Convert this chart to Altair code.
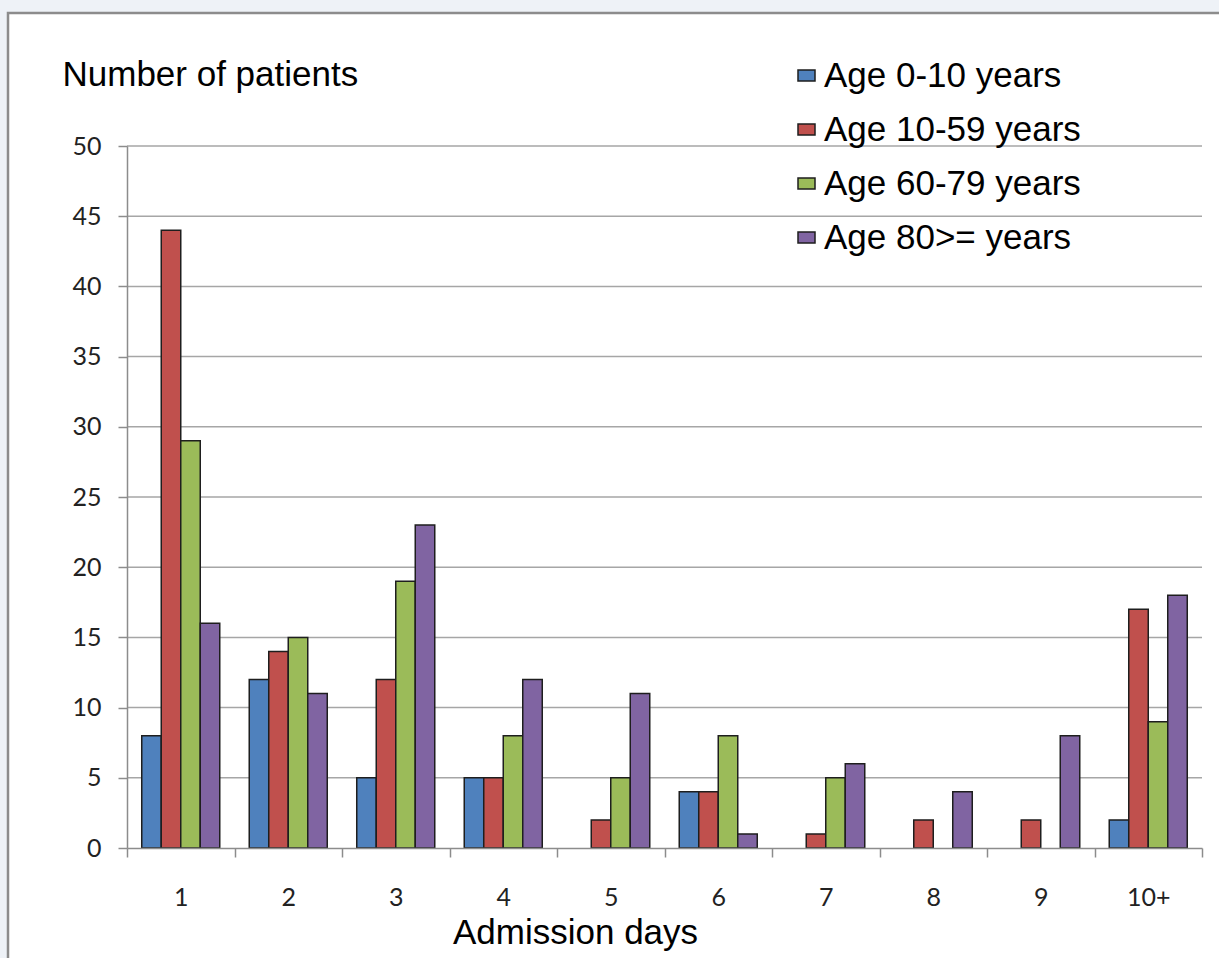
import altair as alt
import pandas as pd

# Admission length categories and patient counts per age group
days = ["1", "2", "3", "4", "5", "6", "7", "8", "9", "10+"]
groups = ["Age 0-10 years", "Age 10-59 years", "Age 60-79 years", "Age 80>= years"]
age_0_10 = [8, 12, 5, 5, 0, 4, 0, 0, 0, 2]
age_10_59 = [44, 14, 12, 5, 2, 4, 1, 2, 2, 17]
age_60_79 = [29, 15, 19, 8, 5, 8, 5, 0, 0, 9]
age_80_plus = [16, 11, 23, 12, 11, 1, 6, 4, 8, 18]
colors = ["#4f81bd", "#c0504d", "#9bbb59", "#8064a2"]
y_ticks = [0, 5, 10, 15, 20, 25, 30, 35, 40, 45, 50]

rows = []
for g, series in zip(groups, [age_0_10, age_10_59, age_60_79, age_80_plus]):
    for d, v in zip(days, series):
        rows.append({"day": d, "group": g, "value": v})
df = pd.DataFrame(rows)

W, H = 1075, 702
PAD_L, PAD_T = 127, 146
ARIAL = "Liberation Sans"
TICKFONT = "Lato"

# white panel with a grey border on the light page background
frame = alt.Chart(pd.DataFrame({"k": [0]})).mark_rect(
    fill="white", stroke="#8c8c8c", strokeWidth=2.5
).encode(
    x=alt.value(8 - PAD_L),
    x2=alt.value(W + 200),
    y=alt.value(13 - PAD_T),
    y2=alt.value(H + 200),
)

yscale = alt.Scale(domain=[0, 50], nice=False)

y_axis = alt.Axis(
    values=y_ticks,
    title="Number of patients",
    titleFont=ARIAL,
    titleFontSize=35,
    titleFontWeight="normal",
    titleColor="#000",
    titleAngle=0,
    titleAlign="left",
    titleBaseline="alphabetic",
    titleX=62 - PAD_L,
    titleY=85 - PAD_T,
    labelFont=TICKFONT,
    labelFontSize=25,
    labelColor="#222",
    labelPadding=17,
    tickSize=9,
    tickColor="#8c8c8c",
    tickWidth=1.5,
    domainColor="#8c8c8c",
    domainWidth=1.5,
    grid=False,
    zindex=1,
)

grid = alt.Chart(pd.DataFrame({"v": y_ticks[1:]})).mark_rule(
    color="#a6a6a6", strokeWidth=1.5
).encode(y=alt.Y("v:Q", scale=yscale, axis=y_axis))

bars = alt.Chart(df).transform_filter("datum.value > 0").mark_bar(
    stroke="#1e1e1e", strokeWidth=1.5
).encode(
    x=alt.X(
        "day:N",
        sort=days,
        scale=alt.Scale(domain=days, paddingInner=0, paddingOuter=0),
        axis=alt.Axis(
            title="Admission days",
            titleFont=ARIAL,
            titleFontSize=35,
            titleFontWeight="normal",
            titleColor="#000",
            titleX=575 - PAD_L,
            titleY=943 - 848,
            titleAlign="center",
            titleBaseline="alphabetic",
            labelFont=TICKFONT,
            labelFontSize=25,
            labelColor="#222",
            labelPadding=28,
            labelAngle=0,
            tickBand="extent",
            tickSize=9,
            tickColor="#8c8c8c",
            tickWidth=1.5,
            domainColor="#8c8c8c",
            domainWidth=1.5,
            grid=False,
            zindex=1,
        ),
    ),
    xOffset=alt.XOffset(
        "group:N",
        sort=groups,
        scale=alt.Scale(domain=groups, paddingInner=0, paddingOuter=0.756),
    ),
    y=alt.Y("value:Q", scale=yscale, axis=y_axis),
    color=alt.Color(
        "group:N",
        sort=groups,
        scale=alt.Scale(domain=groups, range=colors),
        legend=alt.Legend(
            title=None,
            orient="none",
            legendX=789 - PAD_L,
            legendY=58 - PAD_T,
            symbolType="M-1,-0.65L1,-0.65L1,0.65L-1,0.65Z",
            symbolSize=289,
            symbolStrokeColor="#1e1e1e",
            symbolStrokeWidth=1.5,
            symbolOpacity=1,
            labelFont=ARIAL,
            labelFontSize=35,
            labelColor="#000",
            labelOffset=0,
            labelLimit=400,
            rowPadding=18,
        ),
    ),
)

chart = alt.layer(frame, grid, bars).properties(
    width=W,
    height=H,
    autosize=alt.AutoSizeParams(type="none"),
    padding={"left": PAD_L, "top": PAD_T, "right": 1219 - PAD_L - W, "bottom": 958 - PAD_T - H},
    background="#eef2f7",
).configure_view(stroke=None)

chart.save("out.html", embed_options={"renderer": "svg", "actions": False})
